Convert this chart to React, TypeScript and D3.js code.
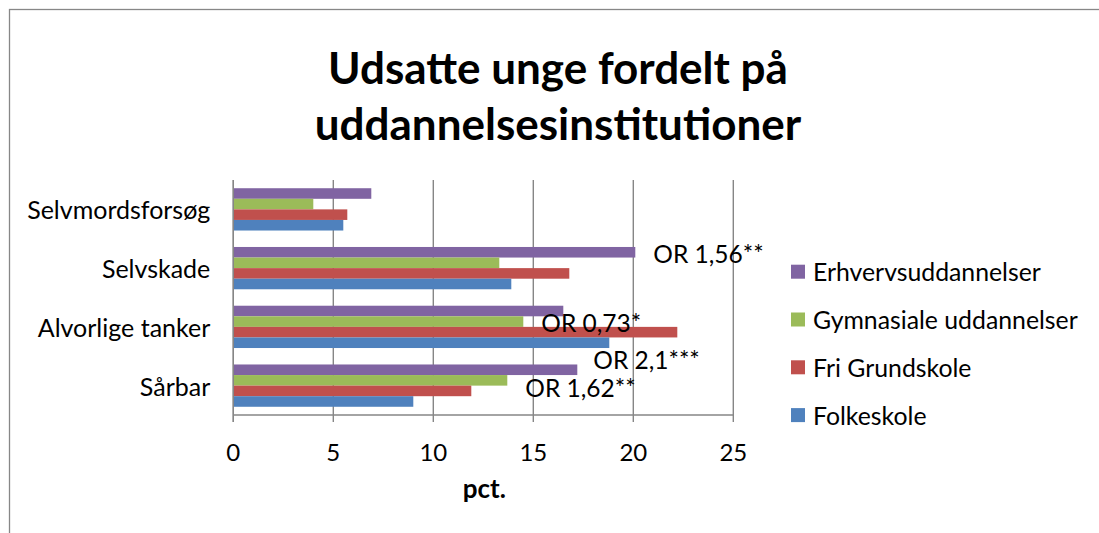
import React from 'react';
import * as d3 from 'd3';

// categories, top to bottom as drawn
const categories = ['Selvmordsforsøg', 'Selvskade', 'Alvorlige tanker', 'Sårbar'];
// series in legend order (top of legend first)
const seriesNames = ['Erhvervsuddannelser', 'Gymnasiale uddannelser', 'Fri Grundskole', 'Folkeskole'];
const seriesColors = ['#8064A2', '#9BBB59', '#C0504D', '#4F81BD'];

// values per category (same order as categories)
const erhverv = [6.9, 20.1, 16.5, 17.2];
const gymnasiale = [4.0, 13.3, 14.5, 13.7];
const friGrundskole = [5.7, 16.8, 22.2, 11.9];
const folkeskole = [5.5, 13.9, 18.8, 9.0];

const xTicks = [0, 5, 10, 15, 20, 25];

// odds-ratio notes placed next to the bars
const notes = [
  { text: 'OR 1,56**', category: 'Selvskade', series: 'Erhvervsuddannelser', x: 21.0, dy: 1 },
  { text: 'OR 0,73*', category: 'Alvorlige tanker', series: 'Gymnasiale uddannelser', x: 15.4, dy: 1 },
  { text: 'OR 2,1***', category: 'Alvorlige tanker', series: 'Folkeskole', x: 18.0, dy: 17 },
  { text: 'OR 1,62**', category: 'Sårbar', series: 'Gymnasiale uddannelser', x: 14.6, dy: 7 },
];

const FONT = 'Lato, "Open Sans", sans-serif';

export default function App() {
  const width = 1099;
  const height = 533;
  const plot = { left: 233.3, right: 733.3, top: 180, bottom: 415 };

  const valuesBySeries = [erhverv, gymnasiale, friGrundskole, folkeskole];

  const x = d3.scaleLinear().domain([0, 25]).range([plot.left, plot.right]);
  const y0 = d3
    .scaleBand()
    .domain(categories)
    .range([plot.top, plot.bottom])
    .paddingInner(0.28)
    .paddingOuter(0.14);
  const y1 = d3.scaleBand().domain(seriesNames).range([0, y0.bandwidth()]);
  const color = d3.scaleOrdinal<string, string>().domain(seriesNames).range(seriesColors);

  const gridColor = '#868686';

  return (
    <svg
      width={width}
      height={height}
      style={{ position: 'absolute', left: 0, top: 0, background: '#fff' }}
      fontFamily={FONT}
    >
      <rect x={0} y={0} width={width} height={height} fill="#fff" />
      <rect x={9.5} y={9.5} width={width + 20} height={height + 20} fill="none" stroke="#878787" strokeWidth={1.3} />

      {/* title */}
      <text x={558} y={67} textAnchor="middle" dominantBaseline="central" fontSize={44} fontWeight="bold" fill="#000">
        Udsatte unge fordelt på
      </text>
      <text x={558} y={123} textAnchor="middle" dominantBaseline="central" fontSize={44} fontWeight="bold" fill="#000">
        uddannelsesinstitutioner
      </text>

      {/* vertical gridlines */}
      {xTicks.map((t) => (
        <line key={'g' + t} x1={x(t)} x2={x(t)} y1={plot.top} y2={plot.bottom + 7} stroke={gridColor} strokeWidth={1.4} />
      ))}
      <line x1={plot.left} x2={plot.right} y1={plot.bottom} y2={plot.bottom} stroke={gridColor} strokeWidth={1.4} />

      {/* bars */}
      {categories.map((c, ci) => (
        <g key={c} transform={`translate(0,${y0(c)})`}>
          {seriesNames.map((s, si) => (
            <rect
              key={s}
              x={x(0)}
              y={y1(s)}
              width={x(valuesBySeries[si][ci]) - x(0)}
              height={y1.bandwidth()}
              fill={color(s)}
            />
          ))}
        </g>
      ))}
      <line x1={plot.left} x2={plot.left} y1={plot.top} y2={plot.bottom + 7} stroke={gridColor} strokeWidth={1.4} />

      {/* category labels */}
      {categories.map((c) => (
        <text
          key={'c' + c}
          x={plot.left - 23}
          y={(y0(c) as number) + y0.bandwidth() / 2}
          textAnchor="end"
          dominantBaseline="central"
          fontSize={25}
          fill="#000"
        >
          {c}
        </text>
      ))}

      {/* tick labels */}
      {xTicks.map((t) => (
        <text key={'t' + t} x={x(t)} y={451} textAnchor="middle" dominantBaseline="central" fontSize={24} fill="#000">
          {t}
        </text>
      ))}
      <text x={(plot.left + plot.right) / 2 + 1} y={488} textAnchor="middle" dominantBaseline="central" fontSize={26} fontWeight="bold" fill="#000">
        pct.
      </text>

      {/* notes */}
      {notes.map((n) => (
        <text
          key={n.text}
          x={x(n.x)}
          y={(y0(n.category) as number) + (y1(n.series) as number) + y1.bandwidth() / 2 + n.dy}
          dominantBaseline="central"
          fontSize={24.5}
          fill="#000"
        >
          {n.text}
        </text>
      ))}

      {/* legend */}
      {seriesNames.map((s, i) => (
        <g key={'l' + s} transform={`translate(791,${271.7 + i * 47.8})`}>
          <rect x={0} y={-7} width={14} height={14} fill={color(s)} />
          <text x={22} y={0} dominantBaseline="central" fontSize={24.8} fill="#000">
            {s}
          </text>
        </g>
      ))}
    </svg>
  );
}
